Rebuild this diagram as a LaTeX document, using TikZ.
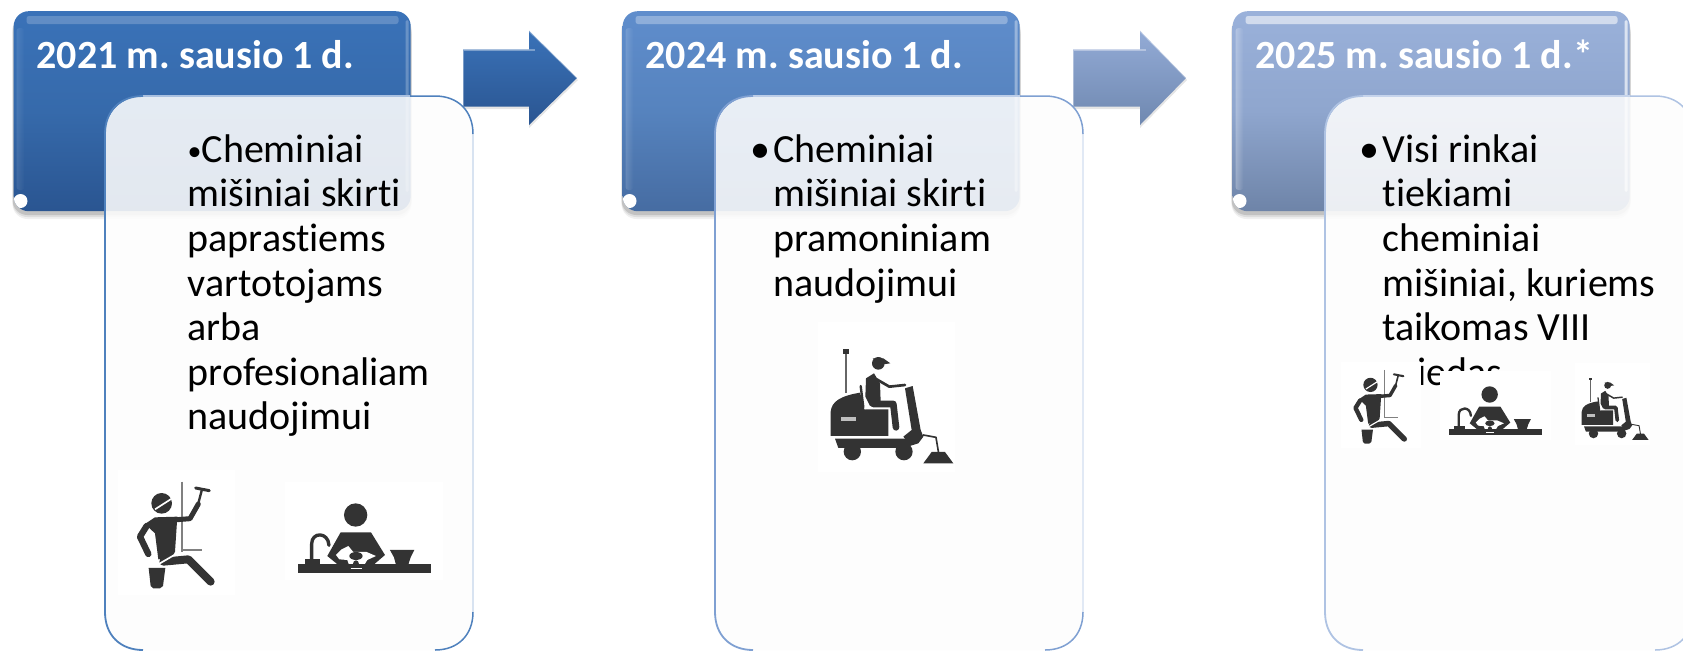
\documentclass[tikz,border=0pt]{standalone}
\usepackage{fontspec}
\setmainfont[Ligatures=NoCommon]{Carlito}
\usetikzlibrary{fadings}
\definecolor{icondark}{HTML}{333333}
\definecolor{aTop}{HTML}{3A72B8}\definecolor{aMid}{HTML}{366AAB}\definecolor{aBot}{HTML}{2A5591}
\definecolor{bTop}{HTML}{5F8DCC}\definecolor{bMid}{HTML}{5683BE}\definecolor{bBot}{HTML}{466CA2}
\definecolor{cTop}{HTML}{9AB1DA}\definecolor{cMid}{HTML}{8FA6CE}\definecolor{cBot}{HTML}{6E84A8}
\definecolor{arTop}{HTML}{93ABD6}\definecolor{arBot}{HTML}{6F88B0}
\definecolor{edgeA}{HTML}{4F81BD}\definecolor{paleA}{HTML}{A9C0E0}
\definecolor{edgeB}{HTML}{7FA0D2}\definecolor{paleB}{HTML}{BCCDE8}
\definecolor{edgeC}{HTML}{AFC3E3}\definecolor{paleC}{HTML}{C6D4EC}
\definecolor{cardfill}{HTML}{FDFDFD}
\tikzset{
  x=1pt,y=-1pt,
  titlebox/.style={anchor=north west,minimum width=397pt,minimum height=200pt,inner sep=0pt,rounded corners=15pt},
  titletext/.style={anchor=base west,inner sep=0pt,text=white,font=\fontsize{40}{44}\selectfont\bfseries},
  bodytext/.style={anchor=north west,inner sep=0pt,align=left,text=black,font=\fontsize{40}{44.6}\selectfont},
  icondraw/.style={draw=icondark,line cap=round,line join=round},
  iconfill/.style={fill=icondark},
}
% title box: name, x, top colour, mid colour, bottom colour, highlight opacity
\newcommand{\titlepanel}[6]{%
  \foreach \d/\o in {7/.06,5/.08,3/.12}{\fill[black,opacity=\o,rounded corners=15pt] (#2-1,12+\d) rectangle ++(399,200);}
  \node[titlebox,top color=#3,bottom color=#5,middle color=#4] (#1) at (#2,11) {};
  \fill[white,opacity=#6,rounded corners=2.5pt] (#2+13,16) rectangle ++(372,8);
  \fill[white,opacity=#6*.5,rounded corners=3pt,path fading=east] (#2+3,28) rectangle ++(8,162);
  \fill[white,opacity=#6*1.2,rounded corners=1.5pt] (#2+392,20) rectangle ++(3,172);
  \begin{scope}
    \clip[rounded corners=15pt] (#2,11) rectangle ++(397,200);
    \fill[white] (#2+7,201) circle (7);
  \end{scope}
}
% arrow: x left, x head base, x tip, top colour, bottom colour
\newcommand{\blockarrow}[5]{%
  \fill[black,opacity=.1] (#1,51) -- (#2,51) -- (#2,33) -- (#3+1,80) -- (#2,128) -- (#2,109) -- (#1,109) -- cycle;
  \path[top color=#4,bottom color=#5] (#1,49.3) -- (#2,49.3) -- (#2,30.7) -- (#3,78) -- (#2,125) -- (#2,106.7) -- (#1,106.7) -- cycle;
  \draw[white,opacity=.35,line width=1.2pt] (#1,106) -- (#1,50) -- (#2+6,50);
  \draw[white,opacity=.35,line width=1.2pt] (#2,31) -- (#3,78);
}
% content card: x, edge colour, pale edge colour
\newcommand{\contentcard}[3]{%
  \fill[cardfill,opacity=.88,rounded corners=38pt] (#1,96) rectangle ++(368,554);
  \draw[#3,line width=1.2pt] (#1+38,96) -- (#1+305,96);
  \draw[#3!45!white,line width=1.2pt] (#1+368,134) -- (#1+368,612);
  \draw[#2,line width=1.8pt] (#1+38,650) .. controls (#1+15,650) and (#1,635) .. (#1,612) -- (#1,134) .. controls (#1,111) and (#1+15,96) .. (#1+38,96);
  \draw[#2,line width=1.5pt] (#1+305,96) -- (#1+330,96) .. controls (#1+353,96) and (#1+368,111) .. (#1+368,134);
  \draw[#2,line width=1.5pt] (#1+330,650) .. controls (#1+353,650) and (#1+368,635) .. (#1+368,612);
}
% window cleaner pictogram
\newcommand{\windowicon}[3]{%
  \begin{scope}[shift={(#1,#2)},scale=#3]
    \fill[white] (85,150) rectangle (435,525);
    \draw[gray,line width=6*#3 pt] (275,185) -- (275,395);
    \draw[gray,line width=5*#3 pt] (275,390) -- (335,390);
    \fill[iconfill] (215,250) circle (31);
    \draw[white,line width=5*#3 pt] (195,268) -- (245,236);
    \fill[iconfill] (165,312) -- (195,292) -- (262,290) -- (255,395) -- (245,415) -- (205,418) -- (195,340) -- cycle;
    \draw[icondraw,line width=19*#3 pt] (170,318) -- (150,350) -- (175,402);
    \draw[icondraw,line width=15*#3 pt] (250,300) -- (300,296) -- (325,252);
    \draw[icondraw,line width=7*#3 pt] (325,250) -- (335,212);
    \draw[icondraw,line width=9*#3 pt] (317,204) -- (358,212);
    \draw[icondraw,line width=24*#3 pt] (220,425) -- (295,418) -- (362,485);
    \draw[white,line width=5*#3 pt] (203,434) -- (272,394);
    \fill[iconfill] (176,444) -- (226,444) -- (219,498) -- (210,505) -- (190,505) -- (182,498) -- cycle;
  \end{scope}}
% person at a sink
\newcommand{\sinkicon}[3]{%
  \begin{scope}[shift={(#1,#2)},scale=#3]
    \fill[white] (585,185) rectangle (1060,480);
    \fill[iconfill] (797,285) circle (35);
    \fill[iconfill] (752,337) -- (843,337) -- (885,405) -- (850,435) -- (745,435) -- (712,408) -- cycle;
    \fill[white] (738,405) -- (755,388) -- (775,378) -- (790,396) -- (830,396) -- (858,408) -- (832,420) -- (815,448) -- (782,448) -- (772,420) -- (748,418) -- cycle;
    \fill[iconfill] (798,408) ellipse (20 and 12);
    \fill[iconfill] (798,432) ellipse (9 and 11);
    \fill[iconfill] (625,432) rectangle (1022,458);
    \draw[white,line width=3*#3 pt] (782,447) -- (815,447);
    \draw[icondraw,line width=10*#3 pt] (665,425) -- (665,372) .. controls (665,335) and (715,335) .. (717,376);
    \fill[iconfill] (645,418) rectangle (690,434);
    \fill[iconfill] (900,390) -- (973,390) -- (962,412) -- (955,434) -- (918,434) -- (912,412) -- cycle;
  \end{scope}}
% sweeper driver
\newcommand{\sweepericon}[3]{%
  \begin{scope}[shift={(#1,#2)},scale=#3]
    \fill[white] (24,-24) rectangle (436,426);
    \draw[gray!80!black,line width=5*#3 pt] (108,65) -- (108,190);
    \fill[iconfill] (100,58) rectangle (118,73);
    \fill[iconfill] (62,318) -- (62,245) .. controls (65,215) and (90,198) .. (150,188) -- (165,238) -- (235,238) -- (235,318) -- cycle;
    \fill[white!75!black] (92,260) rectangle (138,274);
    \draw[white,line width=3*#3 pt] (150,175) -- (165,238);
    \draw[icondraw,line width=7*#3 pt] (152,168) -- (160,232);
    \fill[iconfill] (205,100) circle (19);
    \fill[iconfill] (188,85) -- (220,85) -- (241,100) -- (205,105) -- cycle;
    \fill[iconfill] (168,145) -- (192,130) -- (210,160) -- (212,215) -- (180,228) -- (166,200) -- cycle;
    \draw[icondraw,line width=8*#3 pt] (200,148) -- (238,170) -- (285,165);
    \draw[icondraw,line width=20*#3 pt] (190,222) -- (250,222) -- (258,292);
    \fill[iconfill] (285,175) -- (308,168) -- (332,300) -- (340,320) -- (300,345) -- (280,320) -- (305,300) -- cycle;
    \fill[iconfill] (75,326) -- (300,326) -- (340,320) -- (325,340) -- (280,354) -- (85,354) -- cycle;
    \fill[iconfill] (127,365) circle (26);
    \fill[iconfill] (282,365) circle (26);
    \draw[icondraw,line width=5*#3 pt] (340,315) -- (378,322) -- (386,370);
    \fill[iconfill] (340,400) -- (365,366) -- (405,366) -- (430,400) -- cycle;
  \end{scope}}
\begin{document}
\frenchspacing
\begin{tikzpicture}
  \useasboundingbox (0,0) rectangle (1683,651);
  \clip (0,0) rectangle (1683,651);
  \fill[white] (0,0) rectangle (1683,651);
  % title boxes
  \titlepanel{t1}{13.5}{aTop}{aMid}{aBot}{.2}
  \titlepanel{t2}{622.5}{bTop}{bMid}{bBot}{.3}
  \titlepanel{t3}{1232.5}{cTop}{cMid}{cBot}{.55}
  % arrows
  \blockarrow{463}{529}{577}{aTop}{aBot}
  \blockarrow{1073}{1140}{1186}{arTop}{arBot}
  % titles
  \node[titletext] (h1) at (36.5,68) {2021 m. sausio 1 d.};
  \node[titletext] (h2) at (645.5,68) {2024 m. sausio 1 d.};
  \node[titletext] (h3) at (1255.5,68) {2025 m. sausio 1 d.*};
  % cards
  \contentcard{105}{edgeA}{paleA}
  \contentcard{715}{edgeB}{paleB}
  \contentcard{1325}{edgeC}{paleC}
  % body text
  \node[bodytext] (b1) at (187.5,130) {\rule{0pt}{32pt}\makebox[14pt][l]{\raisebox{2pt}{\fontsize{28}{28}\selectfont •}}Cheminiai\\mišiniai skirti\\paprastiems\\vartotojams\\arba\\profesionaliam\\naudojimui};
  \node[bodytext] (b2) at (773,130) {\rule{0pt}{32pt}\llap{•\kern3pt}Cheminiai\\mišiniai skirti\\pramoniniam\\naudojimui};
  \node[bodytext] (b3) at (1382.5,130) {\rule{0pt}{32pt}\llap{•\kern3pt}Visi rinkai\\tiekiami\\cheminiai\\mišiniai, kuriems\\taikomas VIII\\priedas};
  % pictograms
  \windowicon{90}{420}{0.3333}
  \sinkicon{90}{420}{0.3333}
  \sweepericon{810}{330}{0.3333}
  \windowicon{1321}{327.4}{0.23}
  \sinkicon{1302.9}{327.7}{0.2343}
  \sweepericon{1570.4}{367.2}{0.1817}
\end{tikzpicture}
\end{document}
